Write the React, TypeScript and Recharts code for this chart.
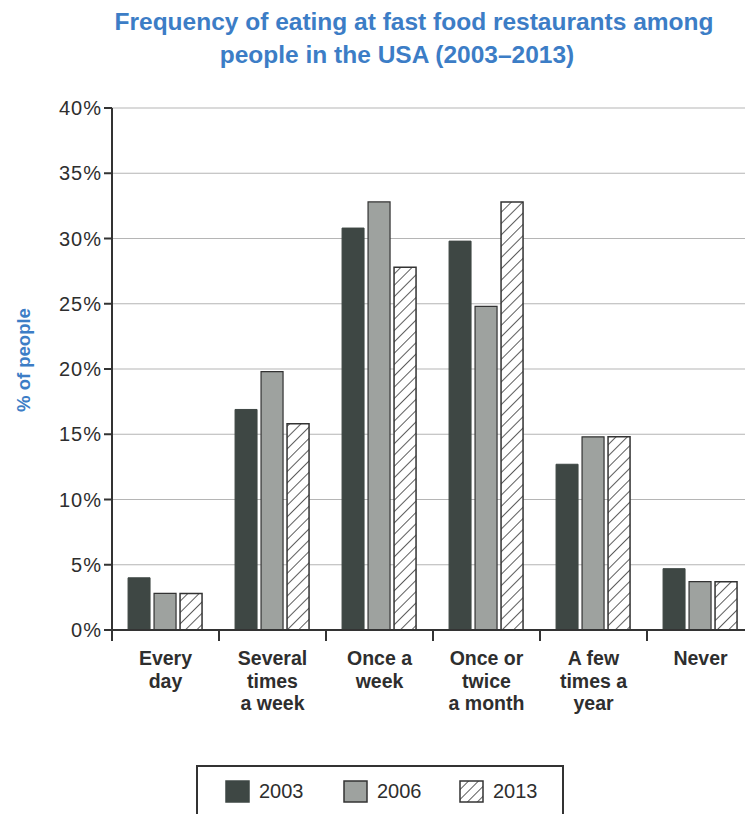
import React from "react";
import {
  BarChart,
  Bar,
  XAxis,
  YAxis,
  CartesianGrid,
} from "recharts";

// ---------------------------------------------------------------------------
// Datos (porcentaje de personas)
// ---------------------------------------------------------------------------
const categories = [
  "Every\nday",
  "Several\ntimes\na week",
  "Once a\nweek",
  "Once or\ntwice\na month",
  "A few\ntimes a\nyear",
  "Never",
];
const values2003 = [4, 16.9, 30.8, 29.8, 12.7, 4.7];
const values2006 = [2.8, 19.8, 32.8, 24.8, 14.8, 3.7];
const values2013 = [2.8, 15.8, 27.8, 32.8, 14.8, 3.7];
const yTicks = [0, 5, 10, 15, 20, 25, 30, 35, 40];
const years = ["2003", "2006", "2013"];

const data = categories.map((name, i) => ({
  name,
  y2003: values2003[i],
  y2006: values2006[i],
  y2013: values2013[i],
}));

// ---------------------------------------------------------------------------
// Estilos
// ---------------------------------------------------------------------------
const FONT = '"Liberation Sans", Arial, sans-serif';
const BLUE = "#3c7dc6";
const DARK = "#3e4744";
const GRAY = "#9ea29f";
const TEXT = "#2e2e2e";

const CHART_W = 760;
const CHART_H = 814;
const MARGIN = { top: 108, right: 6, bottom: 124, left: 0 };
const Y_AXIS_W = 112;
const X_AXIS_H = 60;
const PLOT_BOTTOM = CHART_H - MARGIN.bottom - X_AXIS_H;
const SLOT = (CHART_W - MARGIN.left - MARGIN.right - Y_AXIS_W) / categories.length;

function CategoryTick({ x, payload }: any) {
  const lines = String(payload.value).split("\n");
  return (
    <g>
      <line
        x1={x - SLOT / 2}
        x2={x - SLOT / 2}
        y1={PLOT_BOTTOM}
        y2={PLOT_BOTTOM + 11}
        stroke="#333"
        strokeWidth={2}
      />
      <text
        x={x}
        y={PLOT_BOTTOM + 35}
        textAnchor="middle"
        fontFamily={FONT}
        fontWeight="bold"
        fontSize={19.5}
        fill={TEXT}
      >
        {lines.map((l, i) => (
          <tspan key={i} x={x} dy={i === 0 ? 0 : 22.5}>
            {l}
          </tspan>
        ))}
      </text>
    </g>
  );
}

function Swatch({ kind }: { kind: string }) {
  return (
    <svg width={25} height={23} style={{ display: "block" }}>
      <defs>
        <pattern id="hatchLegend" patternUnits="userSpaceOnUse" width={7} height={7} patternTransform="rotate(45)">
          <rect width={7} height={7} fill="#fff" />
          <line x1={0} y1={0} x2={0} y2={7} stroke="#333" strokeWidth={1.6} />
        </pattern>
      </defs>
      <rect
        x={1}
        y={1}
        width={23}
        height={21}
        fill={kind === "2003" ? DARK : kind === "2006" ? GRAY : "url(#hatchLegend)"}
        stroke={kind === "2003" ? DARK : "#333"}
        strokeWidth={1.5}
      />
    </svg>
  );
}

const titleLine: React.CSSProperties = {
  position: "absolute",
  textAlign: "center",
  color: BLUE,
  fontWeight: "bold",
  fontSize: 24.5,
  whiteSpace: "nowrap",
  width: 800,
};

export default function App() {
  return (
    <div
      style={{
        position: "fixed",
        left: 0,
        top: 0,
        width: 745,
        height: 814,
        overflow: "hidden",
        background: "#fff",
        fontFamily: FONT,
      }}
    >
      <div style={{ ...titleLine, left: 414 - 400, top: 8 }}>
        Frequency of eating at fast food restaurants among
      </div>
      <div style={{ ...titleLine, left: 397 - 400, top: 41 }}>
        people in the USA (2003–2013)
      </div>

      <div style={{ position: "absolute", left: 0, top: 0 }}>
        <BarChart
          width={CHART_W}
          height={CHART_H}
          data={data}
          margin={MARGIN}
          barGap={4}
          barCategoryGap="15%"
        >
          <defs>
            <pattern id="hatch" patternUnits="userSpaceOnUse" width={8} height={8} patternTransform="rotate(45)">
              <rect width={8} height={8} fill="#fff" />
              <line x1={0} y1={0} x2={0} y2={8} stroke="#333" strokeWidth={1.6} />
            </pattern>
          </defs>
          <CartesianGrid vertical={false} stroke="#b5b5b5" strokeWidth={1.2} />
          <XAxis
            dataKey="name"
            height={X_AXIS_H}
            tickLine={false}
            axisLine={{ stroke: "#333", strokeWidth: 2 }}
            tick={<CategoryTick />}
            interval={0}
          />
          <YAxis
            width={Y_AXIS_W}
            domain={[0, 40]}
            ticks={yTicks}
            interval={0}
            tickFormatter={(v) => `${v}%`}
            tickSize={8}
            tickLine={{ stroke: "#333", strokeWidth: 2 }}
            axisLine={{ stroke: "#333", strokeWidth: 2 }}
            tick={{ fontFamily: FONT, fontSize: 20, fill: TEXT, letterSpacing: 1 }}
            label={{
              value: "% of people",
              angle: -90,
              position: "insideLeft",
              dx: 18,
              dy: -9,
              style: {
                fontFamily: FONT,
                fontWeight: "bold",
                fontSize: 18.5,
                fill: BLUE,
                textAnchor: "middle",
              },
            }}
          />
          <Bar dataKey="y2003" name={years[0]} fill={DARK} stroke={DARK} strokeWidth={1} isAnimationActive={false} />
          <Bar dataKey="y2006" name={years[1]} fill={GRAY} stroke="#333" strokeWidth={1.2} isAnimationActive={false} />
          <Bar dataKey="y2013" name={years[2]} fill="url(#hatch)" stroke="#333" strokeWidth={1.5} isAnimationActive={false} />
        </BarChart>
      </div>

      <div
        style={{
          position: "absolute",
          left: 196,
          top: 765,
          width: 368,
          height: 60,
          border: "2px solid #333",
          boxSizing: "border-box",
        }}
      >
        {years.map((yr, i) => (
          <div
            key={yr}
            style={{
              position: "absolute",
              left: [27, 145, 261][i],
              top: 13,
              display: "flex",
              alignItems: "center",
              gap: 9,
              fontSize: 20,
              color: TEXT,
            }}
          >
            <Swatch kind={yr} />
            <span>{yr}</span>
          </div>
        ))}
      </div>
    </div>
  );
}
